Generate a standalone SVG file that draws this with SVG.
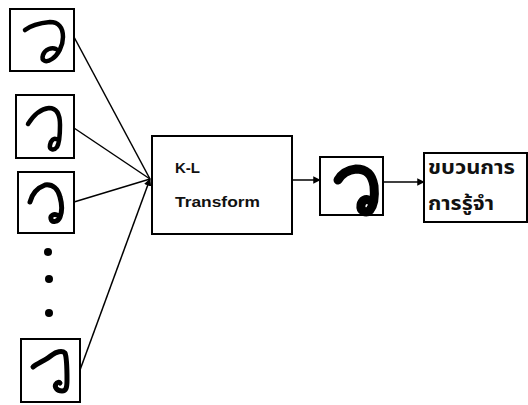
<svg xmlns="http://www.w3.org/2000/svg" width="528" height="405" viewBox="0 0 528 405">
<style>
.box{fill:#fff;stroke:#000;stroke-width:2}
.hw{fill:none;stroke:#000;stroke-linecap:round;stroke-linejoin:round}
.ln{stroke:#000;stroke-width:1.5;fill:none}
.lbl{font-family:"Liberation Sans",Arial,sans-serif;font-weight:bold;font-size:15px;fill:#111}
.th{font-family:"Noto Sans Thai","Noto Sans","DejaVu Sans",sans-serif;font-weight:bold;font-size:19px;fill:#111}
</style>
<defs>
<marker id="ah" viewBox="0 0 10 10" refX="9" refY="5" markerWidth="5" markerHeight="5" orient="auto" markerUnits="strokeWidth">
<path d="M0,0 L10,5 L0,10 z" fill="#000"/>
</marker>
</defs>
<rect width="528" height="405" fill="#fff"/>
<g id="connectors">
<line class="ln" x1="74" y1="37" x2="150" y2="179"/>
<line class="ln" x1="74" y1="128" x2="150" y2="179"/>
<line class="ln" x1="74" y1="202" x2="150" y2="179"/>
<line class="ln" x1="80" y1="370" x2="150" y2="179" marker-end="url(#ah)"/>
<line class="ln" x1="292" y1="180" x2="320" y2="180" marker-end="url(#ah)"/>
<line class="ln" x1="383" y1="182" x2="424" y2="182" marker-end="url(#ah)"/>
</g>
<g id="sample1">
<rect class="box" x="10" y="9" width="64" height="62"/>
<path class="hw" stroke-width="4.5" d="M25,30 C30,26 40,23 50,22 C58,22 63,27 63,37 C63,46 58,55 52,59 C46,63 41,61 43,55 C45,49 52,47 56,49"/>
</g>
<g id="sample2">
<rect class="box" x="16" y="95" width="58" height="63"/>
<path class="hw" stroke-width="4.5" d="M28,124 C33,116 40,109 49,108 C57,108 60,115 60,125 C60,134 60,142 57,147 C54,151 49,150 50,145 C51,140 54,138 56,139"/>
</g>
<g id="sample3">
<rect class="box" x="18" y="172" width="56" height="61"/>
<path class="hw" stroke-width="5" d="M30,202 C32,194 37,188 45,185 C53,184 58,189 60,197 C62,204 62,212 60,217 C58,222 52,223 51,219 C50,215 54,214 57,215"/>
</g>
<g id="dots">
<circle cx="48" cy="252" r="4"/>
<circle cx="49" cy="279" r="4"/>
<circle cx="49" cy="313" r="4"/>
</g>
<g id="sample4">
<rect class="box" x="21" y="339" width="59" height="63"/>
<path class="hw" stroke-width="5" d="M33,367 C38,363 46,360 52,355 C56,352 62,350 65,353 C67,358 67,370 67,380 C67,388 66,391 62,391 C57,391 54,387 56,384 C57,382 59,382 60,383"/>
</g>
<g id="kl">
<rect class="box" x="152" y="136" width="140" height="98"/>
<text class="lbl" x="175" y="173">K-L</text>
<text class="lbl" x="175" y="207" textLength="85" lengthAdjust="spacingAndGlyphs">Transform</text>
</g>
<g id="result">
<rect class="box" x="320" y="157" width="63" height="58"/>
<path class="hw" stroke-width="9" d="M338,180 C342,173 348,170 356,169 C366,169 372,174 374,186 C375,196 374,205 370,210 C366,214 360,211 361,205 C362,200 366,199 368,200"/>
</g>
<g id="recog">
<rect class="box" x="424" y="153" width="103" height="69"/>
<text class="th" x="428" y="174" textLength="87" lengthAdjust="spacingAndGlyphs">ขบวนการ</text>
<text class="th" x="428" y="210" textLength="66" lengthAdjust="spacingAndGlyphs">การรู้จำ</text>
</g>
</svg>
